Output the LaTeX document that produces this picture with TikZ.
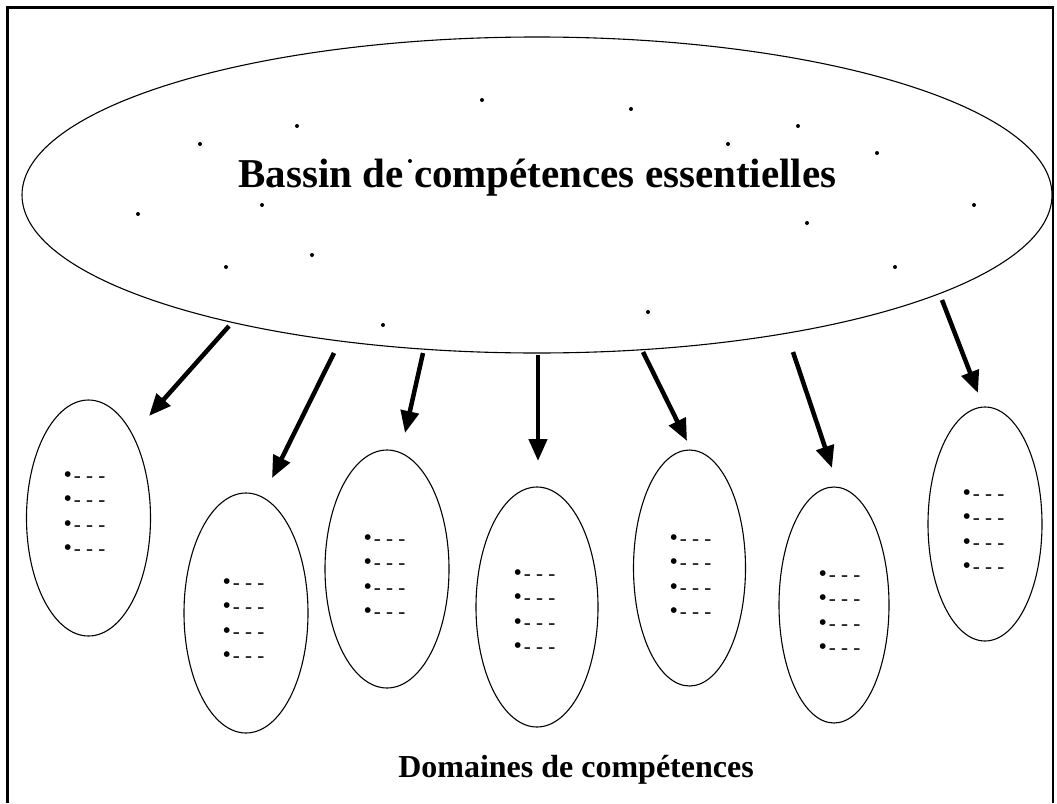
\documentclass[tikz,border=0pt]{standalone}
\usepackage{fontspec}
\setmainfont{Liberation Serif}
\usetikzlibrary{shapes.geometric,arrows.meta}
\begin{document}
\begin{tikzpicture}[x=1pt,y=-1pt,
  frame/.style={line width=2.4pt},
  bigell/.style={ellipse, draw, line width=1.1pt, inner sep=0pt, minimum width=1030pt, minimum height=316pt},
  domell/.style={ellipse, draw, line width=1.1pt, inner sep=0pt},
  speck/.style={circle, fill, inner sep=0pt, minimum size=4pt},
  item/.style={anchor=base west, inner sep=0pt, font=\fontsize{21}{25}\selectfont},
  bigarrow/.style={line width=4.5pt, -{Triangle[length=22pt,width=18pt]}},
  heading/.style={anchor=base, inner sep=0pt, font=\fontsize{41}{48}\selectfont\bfseries}]

\useasboundingbox (0,0) rectangle (1057,803);
\draw[frame] (7.5,803) -- (7.5,7.5) -- (1053,7.5) -- (1053,803);

% big ellipse
\node[bigell] (bassin) at (537,195) {};
\node[heading] (titre) at (537.5,187) {Bassin de compétences essentielles};

% specks
\foreach \x/\y [count=\k] in {482/100, 631/109, 297/126, 798/126, 200/144, 728/144, 877/153, 410/161,
  262/205, 974/205, 138/214, 807/223, 312/255, 226/267, 895/267, 648/312, 383/325}
  \node[speck] (s\k) at (\x,\y) {};

% domain ellipses
\node[domell, minimum width=124pt, minimum height=236pt] (d1) at (88.5,518) {};
\node[domell, minimum width=124pt, minimum height=240pt] (d2) at (246,613) {};
\node[domell, minimum width=124pt, minimum height=238pt] (d3) at (387,569) {};
\node[domell, minimum width=122pt, minimum height=240pt] (d4) at (537,607) {};
\node[domell, minimum width=112pt, minimum height=236pt] (d5) at (689.5,568) {};
\node[domell, minimum width=110pt, minimum height=236pt] (d6) at (834,605) {};
\node[domell, minimum width=114pt, minimum height=234pt] (d7) at (985,524) {};

% bullet items
\foreach \n/\bx/\by in {1/67/477, 2/226/584, 3/367/540, 4/517/575, 5/673/540, 6/822/576, 7/966/495}
  \foreach \i in {0,...,3}
    \node[item] (b\n-\i) at (\bx-3.7,\by+5+24.5*\i) {{\fontsize{24}{25}\selectfont •}\hspace{2pt}- - -};

% arrows
\foreach \n/\sx/\sy/\tx/\ty in {1/229/326/149/416, 2/334/353/272/478, 3/423/353/405/433,
  4/538/355/538/461, 5/643/352/687/441, 6/793/352/832/468, 7/942/300/978/393} {
  \coordinate (a\n) at (\sx,\sy);
  \coordinate (t\n) at (\tx,\ty);
  \draw[bigarrow] (a\n) -- (t\n);
}

\node[heading, font=\fontsize{32}{38}\selectfont\bfseries] (domaines) at (576,777) {Domaines de compétences};
\end{tikzpicture}
\end{document}
